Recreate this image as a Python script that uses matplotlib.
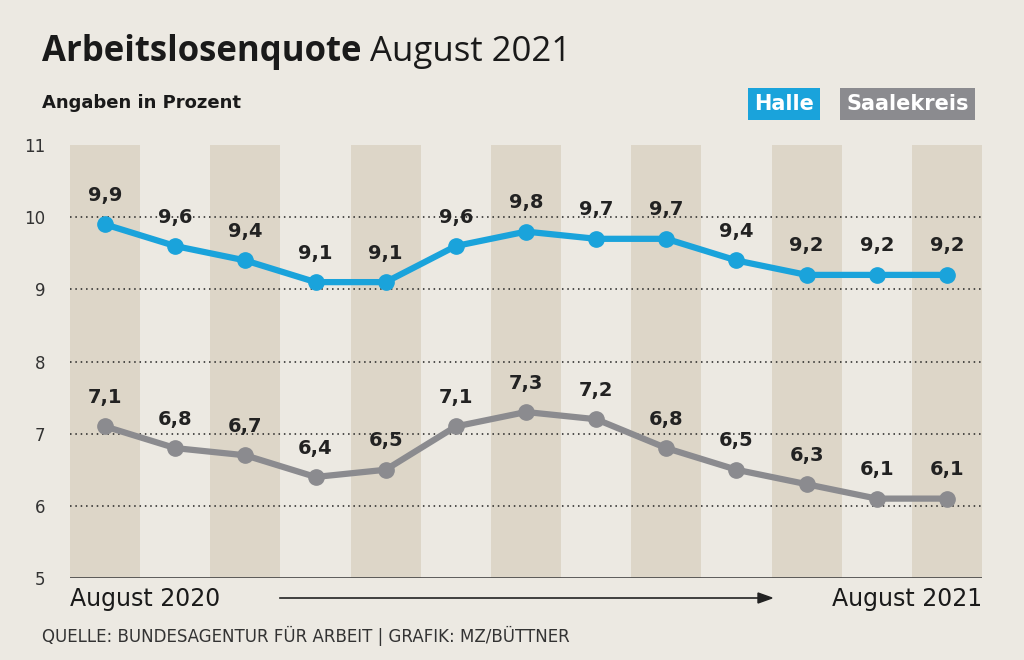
import matplotlib.pyplot as plt
import numpy as np

# Data
MONTHS = list(range(13))
HALLE = [9.9, 9.6, 9.4, 9.1, 9.1, 9.6, 9.8, 9.7, 9.7, 9.4, 9.2, 9.2, 9.2]
SAALEKREIS = [7.1, 6.8, 6.7, 6.4, 6.5, 7.1, 7.3, 7.2, 6.8, 6.5, 6.3, 6.1, 6.1]
Y_TICKS = [5, 6, 7, 8, 9, 10, 11]

BG = "#ECE9E2"
STRIPE = "#DDD6C8"
BLUE = "#1AA3DB"
GREY = "#8B8B8F"
W, H = 1024, 660


def px(x, y):
    return x / W, 1 - y / H


fig = plt.figure(figsize=(W / 100, H / 100), dpi=100, facecolor=BG)
ax = fig.add_axes([70 / W, (H - 578) / H, 912 / W, 433 / H])
ax.set_facecolor(BG)
ax.set_xlim(-0.5, 12.5)
ax.set_ylim(5, 11)

for i in MONTHS:
    if i % 2 == 0:
        ax.axvspan(i - 0.5, i + 0.5, color=STRIPE, lw=0, zorder=0)

for y in Y_TICKS[1:-1]:
    ax.axhline(y, color="#222222", ls=(0, (1, 2.5)), lw=1.1, zorder=1)
ax.axhline(5, color="#444444", lw=1.2, zorder=1)

for vals, col in [(HALLE, BLUE), (SAALEKREIS, GREY)]:
    ax.plot(MONTHS, vals, color=col, lw=4.5, marker="o", ms=11, zorder=3)
    for x, v in zip(MONTHS, vals):
        ax.annotate(f"{v:.1f}".replace(".", ","), (x, v), xytext=(0, 14),
                    textcoords="offset points", ha="center", va="bottom",
                    fontsize=14, fontweight="bold", color="#222222", zorder=4)

ax.set_yticks(Y_TICKS)
ax.set_yticklabels([str(t) for t in Y_TICKS], fontsize=12, color="#333333")
ax.tick_params(axis="y", length=0, pad=18)
ax.set_xticks([])
for s in ax.spines.values():
    s.set_visible(False)

# Title
t1 = fig.text(*px(42, 52), "Arbeitslosenquote", fontsize=25, fontweight="bold",
              color="#1a1a1a", va="center", family="Open Sans")
fig.canvas.draw()
bb = t1.get_window_extent()
fig.text(bb.x1 / W + 8 / W, 1 - 52 / H, "August 2021", fontsize=25,
         color="#1a1a1a", va="center", family="Open Sans")
fig.text(*px(42, 103), "Angaben in Prozent", fontsize=13, fontweight="bold",
         color="#1a1a1a", va="center")

# Legend boxes
fig.text(*px(754, 104), "Halle", fontsize=15, fontweight="bold", color="white",
         va="center", bbox=dict(boxstyle="square,pad=0.3", fc=BLUE, ec="none"))
fig.text(*px(846, 104), "Saalekreis", fontsize=15, fontweight="bold",
         color="white", va="center",
         bbox=dict(boxstyle="square,pad=0.3", fc=GREY, ec="none"))

# Bottom labels
fig.text(*px(70, 599), "August 2020", fontsize=17, color="#1a1a1a", va="center")
fig.text(*px(982, 599), "August 2021", fontsize=17, color="#1a1a1a",
         va="center", ha="right")
fig.add_artist(plt.Line2D([280 / W, 760 / W], [1 - 598 / H] * 2, color="#222222",
                          lw=1.2))
fig.add_artist(plt.Polygon([px(772, 598), px(758, 593), px(758, 603)],
                           color="#222222"))
fig.text(*px(42, 636), "QUELLE: BUNDESAGENTUR FÜR ARBEIT | GRAFIK: MZ/BÜTTNER",
         fontsize=12, color="#333333", va="center")

fig.savefig("out.png", dpi=100, facecolor=BG)
